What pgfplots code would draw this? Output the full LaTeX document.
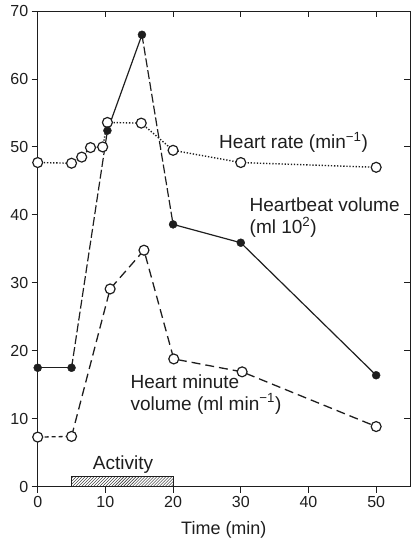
\documentclass[border=0pt]{standalone}
\usepackage{pgfplots}
\pgfplotsset{compat=1.18}
\usepackage{fontspec}
\setmainfont{Liberation Sans}
\usetikzlibrary{patterns}
\definecolor{ink}{HTML}{1E1E1E}
\begin{document}
\begin{tikzpicture}
\begin{axis}[
  scale only axis, width=372.3bp, height=475.7bp,
  xmin=0, xmax=55, ymin=0, ymax=70,
  xtick={0,10,20,30,40,50}, ytick={0,10,20,30,40,50,60,70},
  xtick pos=bottom, ytick pos=left, tick align=outside,
  major tick length=6bp,
  axis line style={ink, line width=0.9pt},
  tick style={ink, line width=0.9pt},
  /pgf/number format/assume math mode=true,
  ticklabel style={font=\fontsize{16bp}{18bp}\selectfont, text=ink},
  xlabel={Time (min)},
  xlabel style={font=\fontsize{18bp}{20bp}\selectfont, text=ink, yshift=-7bp},
  clip=false,
  openmark/.style={mark=*, mark size=5pt, mark options={solid, draw=ink, fill=white, line width=1.2pt}},
]
% Activity bar
\addplot[draw=ink, line width=0.9pt, fill=white, postaction={pattern=north east lines, pattern color=ink}] coordinates {(5,0) (5,1.5) (20,1.5) (20,0)} -- cycle;
% Heart rate (dotted)
\addplot[ink, line width=1.4pt, dash pattern=on 1.3pt off 1.8pt, openmark] coordinates {
 (0,47.7) (5,47.6) (6.5,48.5) (7.8,49.9) (9.6,50.0) (10.3,53.6) (15.3,53.5) (20,49.5) (30,47.7) (50,47.0)};
% Heartbeat volume (solid with dashed segments)
\addplot[ink, line width=1.2pt] coordinates {(0,17.5) (5,17.5)};
\addplot[ink, line width=1.2pt, dash pattern=on 9pt off 3pt] coordinates {(5,17.5) (10.3,52.4)};
\addplot[ink, line width=1.2pt] coordinates {(10.3,52.4) (15.4,66.5)};
\addplot[ink, line width=1.2pt, dash pattern=on 9pt off 3pt] coordinates {(15.4,66.5) (20,38.6)};
\addplot[ink, line width=1.2pt] coordinates {(20,38.6) (30,35.9) (50,16.4)};
\addplot[only marks, ink, mark=*, mark size=4pt, mark options={fill=ink}] coordinates {
 (0,17.5) (5,17.5) (10.3,52.4) (15.4,66.5) (20,38.6) (30,35.9) (50,16.4)};
% Heart minute volume (dashed)
\addplot[ink, line width=1.3pt, dash pattern=on 4pt off 3pt] coordinates {(0,7.3) (5,7.4)};
\addplot[ink, line width=1.3pt, dash pattern=on 9pt off 5pt, openmark] coordinates {
 (5,7.4) (10.7,29.1) (15.7,34.8) (20.1,18.8) (30.2,16.9) (50,8.85)};
\addplot[only marks, ink, openmark] coordinates {(0,7.3)};
% Labels
\node[font=\fontsize{19bp}{22bp}\selectfont, text=ink, anchor=west] at (axis cs:26.3,50.7) {Heart rate (min\textsuperscript{−1})};
\node[font=\fontsize{19bp}{22bp}\selectfont, text=ink, anchor=west, align=left] at (axis cs:30.8,39.6) {Heartbeat volume\\(ml 10\textsuperscript{2})};
\node[font=\fontsize{19bp}{22bp}\selectfont, text=ink, anchor=west, align=left] at (axis cs:13.2,13.6) {Heart minute\\volume (ml min\textsuperscript{−1})};
\node[font=\fontsize{19bp}{22bp}\selectfont, text=ink] at (axis cs:12.6,3.3) {Activity};
\end{axis}
\begin{axis}[
  scale only axis, width=372.3bp, height=475.7bp,
  xmin=0, xmax=55, ymin=0, ymax=70,
  xtick={10,20,30,40,50}, ytick={10,20,30,40,50,60},
  xtick pos=top, ytick pos=right, tick align=inside,
  major tick length=6bp,
  xticklabels={}, yticklabels={},
  axis line style={draw=none},
  tick style={ink, line width=0.9pt},
]
\end{axis}
\pgfresetboundingbox
\path[use as bounding box] (-37.7bp,-54.3bp) rectangle (373.3bp,486.7bp);
\end{tikzpicture}
\end{document}
